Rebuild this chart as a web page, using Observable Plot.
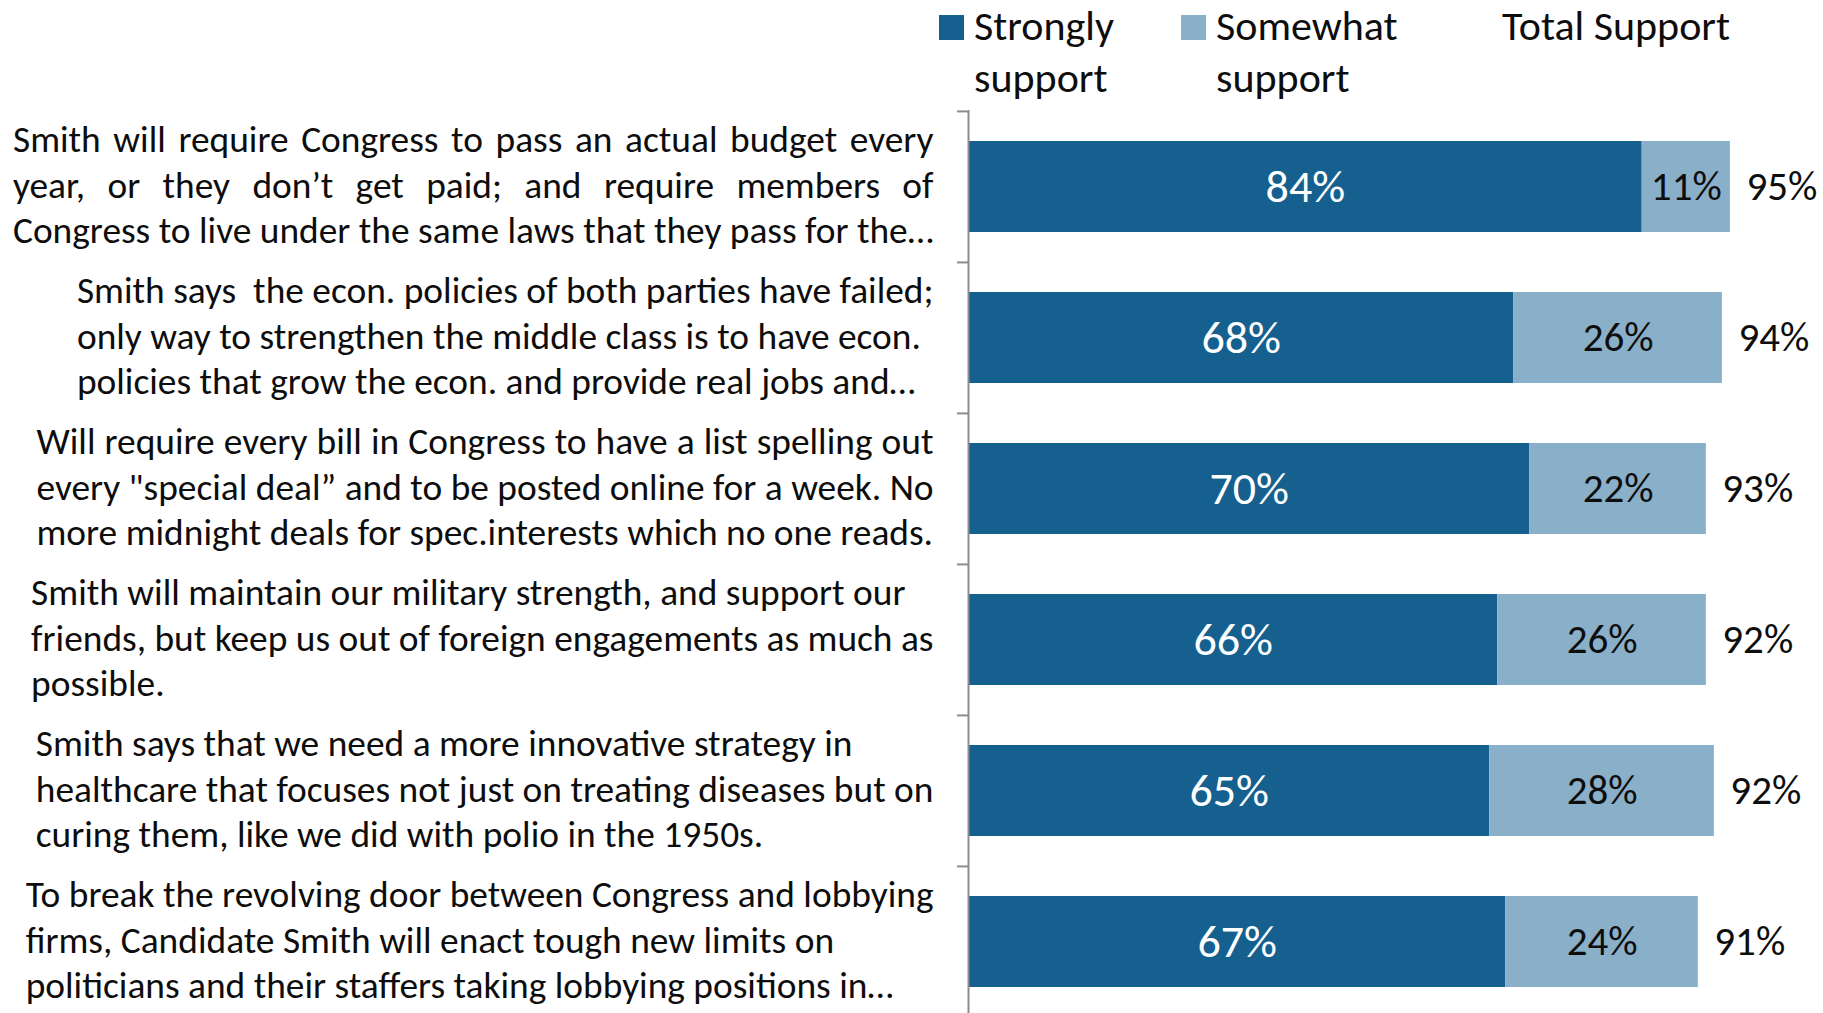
<!DOCTYPE html>
<html>
<head>
<meta charset="utf-8">
<script src="https://cdn.jsdelivr.net/npm/d3@7"></script>
<script src="https://cdn.jsdelivr.net/npm/@observablehq/plot@0.6"></script>
<style>
  html, body { margin: 0; padding: 0; background: #fff; overflow: hidden; }
  #wrap { position: relative; width: 1823px; height: 1013px; overflow: hidden; }
  #chart svg { display: block; }
  .leg-text { position: absolute; top: 0px; font-size: 42px; line-height: 52px; color: #0d0d0d; white-space: pre; }
  .leg-sw { position: absolute; top: 15px; width: 25px; height: 25px; }
</style>
</head>
<body>
<div id="wrap"><div id="chart"></div><div id="legend"></div></div>
<script>
const questions = [
  "Smith will require Congress to pass an actual budget every\nyear, or they don\u2019t get paid; and require members of\nCongress to live under the same laws that they pass for the\u2026",
  "Smith says  the econ. policies of both parties have failed;\nonly way to strengthen the middle class is to have econ.\npolicies that grow the econ. and provide real jobs and\u2026",
  "Will require every bill in Congress to have a list spelling out\nevery \"special deal\u201d and to be posted online for a week. No\nmore midnight deals for spec.interests which no one reads.",
  "Smith will maintain our military strength, and support our\nfriends, but keep us out of foreign engagements as much as\npossible.",
  "Smith says that we need a more innovative strategy in\nhealthcare that focuses not just on treating diseases but on\ncuring them, like we did with polio in the 1950s.",
  "To break the revolving door between Congress and lobbying\nfirms, Candidate Smith will enact tough new limits on\npoliticians and their staffers taking lobbying positions in\u2026"
];
const strongly = [84, 68, 70, 66, 65, 67];
const somewhat = [11, 26, 22, 26, 28, 24];
const total    = [95, 94, 93, 92, 92, 91];
const justified = [true, false, true, false, false, false];
const seriesNames = ["Strongly support", "Somewhat support"];
const seriesLegend = ["Strongly\nsupport", "Somewhat\nsupport"];
const seriesColors = ["#15608F", "#8AAFC9"];
const totalTitle = "Total Support";

const FONT = "Carlito, Calibri, Lato, sans-serif";
const W = 1823, H = 1017, MT = 110, MB = 0, ML = 968, MR = 53;
const PAD_IN = 0.4, PAD_OUT = 0.2;
const step = (H - MT - MB) / (questions.length - PAD_IN + 2 * PAD_OUT);
const LABEL_SIZE = 37.4;

const bars = questions.flatMap((q, i) => [
  {q, series: seriesNames[0], value: strongly[i]},
  {q, series: seriesNames[1], value: somewhat[i]}
]);

const svg = Plot.plot({
  width: W, height: H,
  marginTop: MT, marginBottom: MB, marginLeft: ML, marginRight: MR,
  x: {domain: [0, 100], axis: null},
  y: {domain: questions, axis: null, paddingInner: PAD_IN, paddingOuter: PAD_OUT},
  color: {domain: seriesNames, range: seriesColors},
  style: {fontFamily: FONT, background: "white", overflow: "visible"},
  marks: [
    Plot.barX(bars, {x: "value", y: "q", fill: "series"}),
    Plot.ruleX([0], {stroke: "#8c8c8c", strokeWidth: 2}),
    Plot.ruleY(questions, {y: d => d, x1: 0, x2: 0, insetLeft: -11, dy: -step / 2, stroke: "#8c8c8c", strokeWidth: 2}),
    Plot.text(questions, {x: (d, i) => strongly[i] / 2, y: d => d, text: (d, i) => strongly[i] + "%", fill: "white", fontSize: 46}),
    Plot.text(questions, {x: (d, i) => strongly[i] + somewhat[i] / 2, y: d => d, text: (d, i) => somewhat[i] + "%", fill: "#0d0d0d", fontSize: 41}),
    Plot.text(questions, {x: (d, i) => strongly[i] + somewhat[i], y: d => d, text: (d, i) => total[i] + "%", fill: "#0d0d0d", fontSize: 41, textAnchor: "start", dx: 16}),
    Plot.text(questions, {x: 0, y: d => d, text: d => d, fill: "#0d0d0d", fontSize: LABEL_SIZE, lineHeight: 45.3 / LABEL_SIZE, textAnchor: "end", dx: -35, dy: -4, ariaDescription: "question-labels"})
  ]
});
document.getElementById("chart").append(svg);

// left-align each label block, right edge of its longest line at the anchor; justify where needed
const lg = svg.querySelector('g[aria-description="question-labels"]');
if (lg) {
  lg.querySelectorAll("text").forEach((t, i) => {
    const spans = [...t.querySelectorAll("tspan")];
    if (!spans.length) return;
    const widths = spans.map(s => s.getComputedTextLength());
    const maxW = Math.max(...widths);
    t.setAttribute("text-anchor", "start");
    spans.forEach((s, j) => {
      s.setAttribute("x", -maxW);
      if (justified[i] && j < spans.length - 1) {
        const n = (s.textContent.match(/ /g) || []).length;
        if (n) s.setAttribute("word-spacing", (maxW - widths[j]) / n);
      }
    });
  });
}

// legend
const legend = document.getElementById("legend");
legend.style.fontFamily = FONT;
const legX = [939, 1181];
seriesNames.forEach((name, k) => {
  const sw = document.createElement("div");
  sw.className = "leg-sw";
  sw.style.left = legX[k] + "px";
  sw.style.background = seriesColors[k];
  legend.append(sw);
  const tx = document.createElement("div");
  tx.className = "leg-text";
  tx.style.left = (legX[k] + 35) + "px";
  tx.style.fontFamily = FONT;
  tx.textContent = seriesLegend[k];
  legend.append(tx);
});
const tt = document.createElement("div");
tt.className = "leg-text";
tt.style.left = "1502px";
tt.style.fontFamily = FONT;
tt.textContent = totalTitle;
legend.append(tt);
</script>
</body>
</html>
